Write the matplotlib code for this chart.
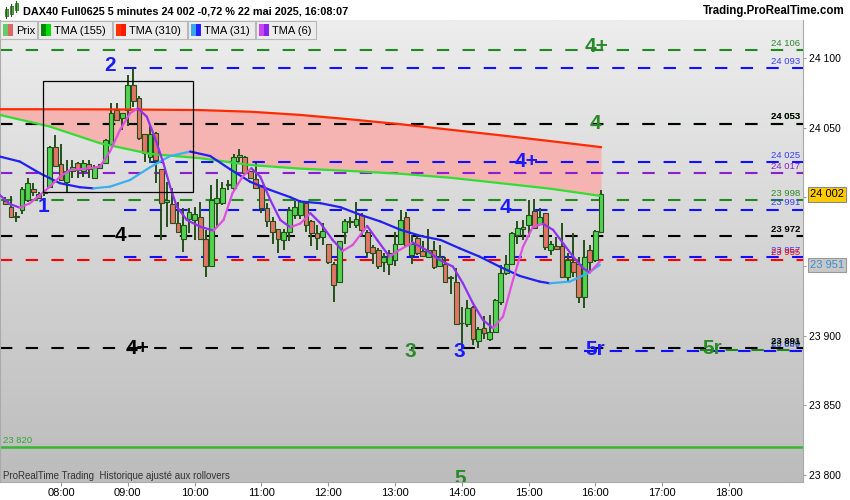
import matplotlib
matplotlib.use('Agg')
import numpy as np
import matplotlib.pyplot as plt
from matplotlib.collections import LineCollection
from matplotlib.colors import LinearSegmentedColormap
from matplotlib.patches import Rectangle
from matplotlib.ticker import FuncFormatter

plt.rcParams['font.family'] = ['Liberation Sans', 'DejaVu Sans']
plt.rcParams['lines.scale_dashes'] = False

def tmin(s):
    h, m = s.split(':')
    return int(h)*60 + int(m)

def fmt(v):
    return '{:,}'.format(int(round(v))).replace(',', ' ')

# ---- 5 minute candles, first bar 07:10, last 16:05
bar_start = '07:10'
opens = [23997, 23993, 23986, 23991, 23998, 24005.5, 24002.5, 24003, 24007.5, 24036,
         24023.5, 24011, 24018.5, 24024.5, 24018.5, 24023.5, 24013.5, 24021, 24024.5, 24038.5,
         24063, 24057, 24063, 24081, 24071.5, 24045.5, 24029, 24046.5, 24020.5, 23996.5,
         23995, 23981.5, 23969.5, 23984.5, 23983.5, 23985.5, 23969.5, 23950, 23996, 23996,
         24008.5, 24006.5, 24029, 24029, 24018.5, 24013, 24008.5, 23992, 23982.5, 23977,
         23969, 23975, 23987, 23987, 23995.5, 23982.5, 23974, 23971.5, 23966.5, 23952,
         23939, 23975, 23982, 23980, 23987, 23975, 23964, 23962, 23953.5, 23952,
         23954.5, 23966.5, 23986, 23958.5, 23970.5, 23961.5, 23956.5, 23962, 23950.5, 23952,
         23942, 23939, 23909.5, 23908.5, 23921, 23896.5, 23905.5, 23898, 23903, 23924.5,
         23945, 23952, 23972.5, 23977, 23980, 23990, 23980.5, 23988.5, 23962, 23965,
         23965, 23942.5, 23953.5, 23952, 23928, 23962, 23954.5, 23975]
highs = [24000, 24001, 23989, 24007, 24013.5, 24010.5, 24004, 24005, 24036.5, 24045,
         24038.5, 24026.5, 24026.5, 24025.5, 24026.5, 24027, 24023, 24024, 24041.5, 24067.5,
         24067.5, 24060.5, 24088, 24093, 24072.5, 24045.5, 24052, 24047, 24020.5, 24011,
         24006.5, 23996.5, 23992, 23992, 23993, 23996.5, 23976.5, 24008.5, 24013, 24011,
         24012.5, 24031, 24034.5, 24029.5, 24019, 24024.5, 24008.5, 23995.5, 23986, 23977,
         23977, 23993, 23997, 23998, 23996.5, 23983.5, 23980, 23981, 23966.5, 23953.5,
         23968, 23984.5, 23986, 23996.5, 23988.5, 23976.5, 23965.5, 23963, 23959.5, 23962,
         23975, 23990.5, 23989.5, 23972.5, 23972.5, 23968, 23977, 23968, 23965.5, 23956.5,
         23943, 23949, 23921, 23926, 23921.5, 23906.5, 23914, 23915, 23926.5, 23951,
         23958.5, 23975, 23982.5, 23983.5, 23998, 23998.5, 23992, 23988.5, 23968, 23971.5,
         23981, 23959.5, 23974, 23957, 23969, 23965.5, 23976.5, 24005]
lows = [23994, 23985, 23982, 23988, 23996.5, 24000.5, 23999, 24001, 24007, 24022,
        24012, 24004, 24013.5, 24013.5, 24014.5, 24013.5, 24013, 24021, 24024, 24038.5,
        24054.5, 24048.5, 24051, 24065, 24041, 24025.5, 24024.5, 24010, 23969, 23978.5,
        23981, 23974, 23960.5, 23974, 23969, 23969, 23942.5, 23949.5, 23978, 23994.5,
        24005, 24005, 24025.5, 24016, 24013, 24005.5, 23988.5, 23978.5, 23966.5, 23959.5,
        23962, 23968, 23984.5, 23984.5, 23975, 23964.5, 23962, 23965.5, 23952, 23924.5,
        23938, 23966.5, 23977.5, 23977.5, 23971.5, 23957, 23952, 23948.5, 23946, 23944,
        23950, 23965.5, 23964.5, 23952, 23958.5, 23957, 23956, 23948.5, 23949.5, 23938,
        23930.5, 23908.5, 23891, 23906.5, 23893.5, 23891, 23898, 23896.5, 23902, 23922,
        23944, 23951, 23966.5, 23969, 23971.5, 23977.5, 23980, 23962, 23958, 23962,
        23941.5, 23939, 23942.5, 23923.5, 23920, 23945, 23953.5, 23974]
closes = [23995, 23985.5, 23986.5, 24005.5, 24010, 24003.5, 23999.5, 24004, 24036, 24022.5,
          24012.5, 24018.5, 24021.5, 24019.5, 24024.5, 24020, 24022, 24024, 24041, 24060.5,
          24055.5, 24060.5, 24081, 24069, 24042.5, 24031.5, 24045.5, 24026.5, 23995.5, 23998,
          23981.5, 23975, 23980, 23989.5, 23987.5, 23969.5, 23950, 23998, 23999, 24006.5,
          24009.5, 24029, 24030, 24017, 24013.5, 24006.5, 23992, 23982.5, 23974.5, 23969.5,
          23974.5, 23991, 23993, 23997, 23980, 23974, 23970.5, 23975.5, 23953.5, 23936.5,
          23968, 23982.5, 23982.5, 23984.5, 23976.5, 23960.5, 23959.5, 23950, 23956.5, 23959.5,
          23966.5, 23983.5, 23965.5, 23966.5, 23959.5, 23957.5, 23962, 23949.5, 23956.5, 23939,
          23942.5, 23908.5, 23909, 23920, 23897.5, 23905, 23902, 23903, 23925.5, 23945.5,
          23952, 23974, 23977.5, 23978.5, 23987, 23978, 23986, 23964, 23966.5, 23962.5,
          23942.5, 23954.5, 23946, 23928, 23957, 23953.5, 23975.5, 24002]

# ---- moving averages
long_times = ['07:05', '07:50', '08:35', '09:20', '10:05', '10:50', '11:35', '12:20',
              '13:05', '13:50', '14:35', '15:20', '16:05']
tma155 = [24059.2, 24050.8, 24038.8, 24031.1, 24028.0, 24023.1, 24020.5, 24018.8,
          24016.8, 24013.9, 24010.0, 24006.0, 24000.8]
tma310 = [24063.3, 24063.3, 24063.2, 24063.0, 24062.7, 24061.5, 24059.2, 24056.0,
          24052.5, 24048.5, 24044.5, 24040.3, 24036.0]

tma31_times = ['07:05', '07:23', '07:41', '07:59', '08:17', '08:29', '08:44', '09:02', '09:20',
               '09:38', '09:56', '10:14', '10:32', '10:50', '11:08', '11:26', '11:35', '11:53',
               '12:11', '12:29', '12:47', '13:05', '13:23', '13:41', '13:58', '14:16', '14:34',
               '14:52', '15:10', '15:19', '15:37', '15:52', '16:04']
tma31 = [24029.2, 24025.6, 24017.2, 24010.0, 24007.1, 24006.3, 24007.5, 24012.3, 24021.5,
         24029.6, 24032.8, 24029.6, 24020.0, 24011.0, 24005.1, 23999.9, 23996.8, 23995.6,
         23992.7, 23987.2, 23982.4, 23976.4, 23972.0, 23969.1, 23963.1, 23957.1, 23949.9,
         23943.2, 23939.1, 23937.9, 23939.1, 23944.6, 23951.1]

tma6_times = ['07:05', '07:14', '07:23', '07:32', '07:41', '07:50', '07:59', '08:08', '08:17',
              '08:26', '08:35', '08:44', '08:53', '09:02', '09:09', '09:17', '09:24', '09:32',
              '09:38', '09:44', '09:53', '10:05', '10:17', '10:26', '10:34', '10:43', '10:51',
              '10:59', '11:08', '11:17', '11:26', '11:35', '11:44', '11:53', '12:04', '12:13',
              '12:22', '12:35', '12:44', '12:55', '13:04', '13:16', '13:28', '13:40', '13:52',
              '14:01', '14:10', '14:19', '14:28', '14:37', '14:46', '14:55', '15:04', '15:13',
              '15:22', '15:31', '15:40', '15:49', '15:55', '16:04']
tma6 = [24001.5, 23995.0, 23992.4, 23995.5, 24001.5, 24007.5, 24014.7, 24019.5, 24020.0,
        24020.8, 24022.0, 24032.8, 24048.4, 24060.4, 24064.0, 24058.0, 24043.6, 24024.4,
        24007.5, 23993.1, 23983.5, 23978.7, 23975.8, 23983.5, 24002.7, 24014.7, 24020.8,
        24014.7, 23997.9, 23983.5, 23978.2, 23981.0, 23988.4, 23981.2, 23969.1, 23961.2,
        23965.5, 23979.2, 23969.1, 23957.1, 23961.9, 23967.2, 23961.9, 23954.7, 23949.9,
        23937.9, 23923.5, 23911.5, 23905.5, 23913.9, 23940.3, 23964.3, 23978.8, 23980.7,
        23976.4, 23966.7, 23957.1, 23948.7, 23945.6, 23953.5]

# ---- horizontal levels: value, colour, start time (None = whole width)
level_vals = [24106, 24093, 24053, 24053, 24025, 24017, 23998, 23991, 23972, 23957, 23955,
              23890, 23889, 23891]
level_cols = ['#1f8a1f', '#1010ff', '#1f8a1f', 'black', '#1010ff', '#8a1fcf', '#1f8a1f',
              '#1010ff', 'black', '#1010ff', '#ff0000', '#1f8a1f', '#1010ff', 'black']
level_start = [None, '08:57', None, None, '08:57', None, None, '08:57', None, '08:57', None,
               '17:34', '15:50', None]
label_cols = ['#2a8a2a', '#3a3aff', '#2a8a2a', 'black', '#3a3aff', '#8a1fcf', '#2a8a2a',
              '#3a3aff', 'black', '#3a3aff', '#ff0000', '#2a8a2a', '#3a3aff', 'black']
support = 23820

# ---- wave labels on the chart
wave_txt = ['1', '2', '4', '4+', '3', '3', '4', '4+', '4', '4+', '5r', '5r', '5']
wave_time = ['07:44', '08:44', '08:53', '09:09', '13:14', '13:58', '14:39', '14:58',
             '16:00', '16:01', '16:00', '17:45', '13:59']
wave_price = [23992.9, 24094.5, 23972, 23890.6, 23888.4, 23888.4, 23992.2, 24025.3,
              24052.7, 24108.2, 23889.9, 23890.6, 23797]
wave_col = ['#1a1aff', '#1a1aff', 'black', 'black', '#2a8a2a', '#1a1aff', '#1a1aff',
            '#1a1aff', '#2a8a2a', '#2a8a2a', '#1a1aff', '#2a8a2a', '#2a8a2a']

box_t = ('07:44', '09:59')
box_p = (24003.5, 24083.7)

last_price = 24002
tma31_last = 23951

xmin, xmax = 425.2, 1146.5
ymin, ymax = 23794.7, 24127.6

fig = plt.figure(figsize=(8.5, 5), dpi=100)
ax = fig.add_axes([0, 18/500., 803/850., 462/500.])
ax.set_zorder(1)

# background gradient
cmap = LinearSegmentedColormap.from_list('bg', ['#ededed', '#bcbcbc'])
ax.imshow(np.linspace(0, 1, 256).reshape(-1, 1), cmap=cmap, aspect='auto',
          extent=[xmin, xmax, ymin, ymax], zorder=0)

# TMA fill + long lines
lt = np.array([tmin(s) for s in long_times])
ax.fill_between(lt, tma155, tma310, where=np.array(tma310) >= np.array(tma155),
                color='#f5b3b1', lw=0, zorder=1)

# levels
for v, c, s in zip(level_vals, level_cols, level_start):
    x0 = xmin if s is None else tmin(s)
    ax.plot([x0, xmax], [v, v], color=c, lw=1.5, ls=(0, (8.9, 9.6)), zorder=2)
for v, c in zip(level_vals, label_cols):
    ax.text(1143.8, v + 1.5, fmt(v), color=c, fontsize=6.8, ha='right', va='bottom', zorder=2,
            fontweight='bold' if c == 'black' else 'normal')
ax.axhline(support, color='#33b833', lw=1.8, zorder=2)
ax.text(428, support + 1.5, fmt(support), color='#33a833', fontsize=6.8, ha='left', va='bottom')

# candles
t = tmin(bar_start) + 5*np.arange(len(opens))
o = np.array(opens); c = np.array(closes); h = np.array(highs); l = np.array(lows)
edge = '#24501a'
fill = np.where(c >= o, '#52d452', '#e57368')
ax.vlines(t, l, h, color=edge, lw=1.4, zorder=3)
ax.bar(t, np.maximum(np.abs(c - o), 0.4), bottom=np.minimum(o, c), width=4.3, color=fill,
       edgecolor=edge, linewidth=0.8, zorder=4)

ax.plot(lt, tma155, color='#33dd33', lw=1.6, zorder=5)
ax.plot(lt, tma310, color='#ff2a00', lw=1.6, zorder=5)

def slope_line(times, vals, up_col, down_col):
    x = np.array([tmin(s) for s in times]); y = np.array(vals)
    segs = np.stack([np.column_stack([x[:-1], y[:-1]]), np.column_stack([x[1:], y[1:]])], axis=1)
    cols = [up_col if b > a else down_col for a, b in zip(y[:-1], y[1:])]
    ax.add_collection(LineCollection(segs, colors=cols, linewidths=1.6, zorder=6,
                                     capstyle='round', joinstyle='round'))

slope_line(tma31_times, tma31, '#3ab0f0', '#2020f0')
slope_line(tma6_times, tma6, '#e050e0', '#9030f0')

# box
ax.add_patch(Rectangle((tmin(box_t[0]), box_p[0]), tmin(box_t[1]) - tmin(box_t[0]),
                       box_p[1] - box_p[0], fill=False, ec='black', lw=0.9, zorder=7))

for s, tt, p, col in zip(wave_txt, wave_time, wave_price, wave_col):
    ax.text(tmin(tt), p, s, color=col, fontsize=15, fontweight='bold', ha='center',
            va='center', zorder=8, clip_on=True)

ax.text(428, 23799.1, 'ProRealTime Trading  Historique ajusté aux rollovers', fontsize=7,
        color='#333333', ha='left', va='center', zorder=8)

ax.set_xlim(xmin, xmax)
ax.set_ylim(ymin, ymax)
ax.set_xticks([tmin('%02d:00' % hh) for hh in range(8, 19)])
ax.set_xticklabels(['%02d:00' % hh for hh in range(8, 19)])
ax.set_yticks(np.arange(23800, 24101, 50))
ax.yaxis.set_major_formatter(FuncFormatter(lambda v, p: '' if int(v) in (24000, 23950) else fmt(v)))
ax.yaxis.tick_right()
ax.tick_params(axis='x', length=3, color='#999999', labelsize=8, pad=1.5)
ax.tick_params(axis='y', length=2.5, color='#999999', labelsize=7.5, pad=2)
ax.spines['top'].set_visible(False)
for sp in ['left', 'right', 'bottom']:
    ax.spines[sp].set_color('#aaaaaa')

ax.annotate(fmt(last_price), xy=(1, last_price), xycoords=ax.get_yaxis_transform(),
            xytext=(5, 0), textcoords='offset points', fontsize=8, va='center', ha='left',
            bbox=dict(boxstyle='square,pad=0.2', fc='#ffcc00', ec='#888888', lw=0.8))
ax.annotate(fmt(tma31_last), xy=(1, tma31_last), xycoords=ax.get_yaxis_transform(),
            xytext=(5, 0), textcoords='offset points', fontsize=8, va='center', ha='left',
            color='#3a8fd0', bbox=dict(boxstyle='square,pad=0.2', fc='#c8c8c8', ec='#999999', lw=0.8))

# ---- header and legend (pixel overlay)
ov = fig.add_axes([0, 0, 1, 1])
ov.set_zorder(5)
ov.set_xlim(0, 850); ov.set_ylim(500, 0)
ov.axis('off')
for x0, y0, hh in [(5, 9, 7), (10, 6, 8), (15, 3, 7)]:
    ov.plot([x0 + 1.5, x0 + 1.5], [y0 - 2, y0 + hh + 2], color='#2a5a1a', lw=0.8)
    ov.add_patch(Rectangle((x0, y0), 3, hh, fc='#44bb44', ec='#2a5a1a', lw=0.5))
ov.text(23, 11, 'DAX40 Full0625 5 minutes 24 002 -0,72 % 22 mai 2025, 16:08:07',
        fontsize=7.8, fontweight='bold', va='center', ha='left')
ov.text(845, 11, 'Trading.ProRealTime.com', fontsize=8.3, fontweight='bold', va='center',
        ha='right')

leg_names = ['Prix', 'TMA (155)', 'TMA (310)', 'TMA (31)', 'TMA (6)']
leg_left = [0, 38, 113, 188, 256]
leg_right = [37, 112, 187, 255, 316]
leg_c1 = ['#66cc66', '#008800', '#ff3300', '#33aaee', '#cc44ee']
leg_c2 = ['#dd6666', '#00dd00', '#ff1a00', '#2222ff', '#8822ee']
for name, a, b, c1, c2 in zip(leg_names, leg_left, leg_right, leg_c1, leg_c2):
    ov.add_patch(Rectangle((a, 21), b - a, 18, fc='#ececec', ec='#b8b8b8', lw=0.8))
    ov.add_patch(Rectangle((a + 3, 24), 5, 12, fc=c1, ec='none'))
    ov.add_patch(Rectangle((a + 8, 24), 5, 12, fc=c2, ec='none'))
    ov.text(a + 16, 30.5, name, fontsize=8, va='center', ha='left')

fig.savefig('out.png', dpi=100)
